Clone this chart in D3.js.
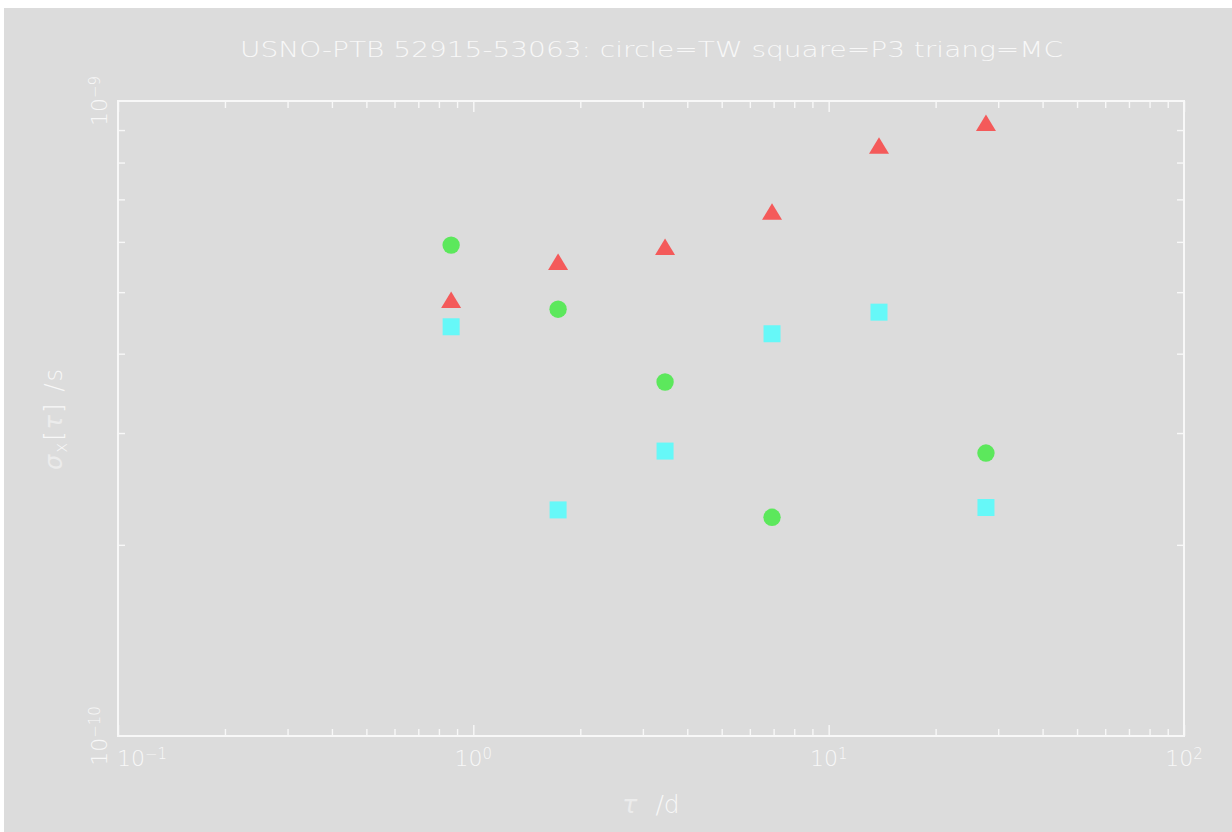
<!DOCTYPE html>
<html>
<head>
<meta charset="utf-8">
<script src="https://cdn.jsdelivr.net/npm/d3@7"></script>
<style>
  html, body { margin: 0; padding: 0; background: #ffffff; }
  svg { display: block; }
  text { font-family: "DejaVu Sans", "Liberation Sans", sans-serif; font-weight: 200; }
</style>
</head>
<body>
<svg id="chart" width="1232" height="832"></svg>
<script>
// Averaging times (days)
const tau = [0.866, 1.732, 3.464, 6.928, 13.856, 27.712];
// Time deviation sigma_x(tau) in seconds, one array per link technique
const twValues = [5.93e-10, 4.70e-10, 3.61e-10, 2.21e-10, null, 2.79e-10]; // circle = TW
const p3Values = [4.41e-10, 2.27e-10, 2.81e-10, 4.30e-10, 4.65e-10, 2.29e-10]; // square = P3
const mcValues = [4.86e-10, 5.58e-10, 5.89e-10, 6.69e-10, 8.50e-10, 9.23e-10]; // triangle = MC

const xDomain = [0.1, 100];
const yDomain = [1e-10, 1e-9];
const xTickLabels = [{v: 0.1, base: "10", exp: "\u22121"}, {v: 1, base: "10", exp: "0"},
                     {v: 10, base: "10", exp: "1"}, {v: 100, base: "10", exp: "2"}];
const yTickLabels = [{v: 1e-9, base: "10", exp: "\u22129"}, {v: 1e-10, base: "10", exp: "\u221210"}];

const titleText = "USNO-PTB 52915-53063: circle=TW square=P3 triang=MC";

const W = 1232, H = 832;
const m = {left: 118, right: 1184, top: 101, bottom: 736};
const bg = "#dcdcdc", fg = "#f8f8f8", greekFg = "#ececec";

const svg = d3.select("#chart");
svg.append("rect").attr("x", 4).attr("y", 8).attr("width", W - 4).attr("height", H - 8).attr("fill", bg);

const x = d3.scaleLog().domain(xDomain).range([m.left, m.right]);
const y = d3.scaleLog().domain(yDomain).range([m.bottom, m.top]);

// minor / major tick positions for each log axis
function logTicks(domain) {
  const major = [], minor = [];
  const lo = Math.round(Math.log10(domain[0])), hi = Math.round(Math.log10(domain[1]));
  for (let e = lo; e <= hi; e++) {
    major.push(Math.pow(10, e));
    if (e < hi) for (let k = 2; k <= 9; k++) minor.push(k * Math.pow(10, e));
  }
  return {major, minor};
}
const xt = logTicks(xDomain), yt = logTicks(yDomain);

function styleAxis(g) {
  g.select(".domain").remove();
  g.selectAll(".tick line").attr("stroke", fg).attr("stroke-width", 1.4);
  g.selectAll(".tick text").remove();
}

// ticks pointing into the frame on all four sides
svg.append("g").attr("transform", `translate(0,${m.bottom})`)
  .call(d3.axisBottom(x).tickValues(xt.minor).tickSize(-7)).call(styleAxis);
svg.append("g").attr("transform", `translate(0,${m.bottom})`)
  .call(d3.axisBottom(x).tickValues(xt.major).tickSize(-11)).call(styleAxis);
svg.append("g").attr("transform", `translate(0,${m.top})`)
  .call(d3.axisTop(x).tickValues(xt.minor).tickSize(-7)).call(styleAxis);
svg.append("g").attr("transform", `translate(0,${m.top})`)
  .call(d3.axisTop(x).tickValues(xt.major).tickSize(-11)).call(styleAxis);
svg.append("g").attr("transform", `translate(${m.left},0)`)
  .call(d3.axisLeft(y).tickValues(yt.minor).tickSize(-7)).call(styleAxis);
svg.append("g").attr("transform", `translate(${m.right},0)`)
  .call(d3.axisRight(y).tickValues(yt.minor).tickSize(-7)).call(styleAxis);

// frame
svg.append("rect")
  .attr("x", m.left).attr("y", m.top)
  .attr("width", m.right - m.left).attr("height", m.bottom - m.top)
  .attr("fill", "none").attr("stroke", fg).attr("stroke-width", 2);

// x tick labels: 10 with superscript exponent
const xl = svg.append("g").selectAll("text").data(xTickLabels).join("text")
  .attr("x", (d, i) => x(d.v) + (i === 0 ? 24 : 0))
  .attr("y", 766)
  .attr("text-anchor", "middle")
  .attr("fill", fg).attr("font-size", 22);
xl.append("tspan").text(d => d.base);
xl.append("tspan").attr("font-size", 15).attr("dy", -7).text(d => d.exp);

// y tick labels, rotated
const yl = svg.append("g").selectAll("text").data(yTickLabels).join("text")
  .attr("transform", d => `translate(107,${y(d.v)}) rotate(-90)`)
  .attr("text-anchor", "middle")
  .attr("fill", fg).attr("font-size", 22);
yl.append("tspan").text(d => d.base);
yl.append("tspan").attr("font-size", 15).attr("dy", -7).text(d => d.exp);

// title
svg.append("text")
  .attr("x", 240).attr("y", 57)
  .attr("textLength", 823).attr("lengthAdjust", "spacingAndGlyphs")
  .attr("fill", fg).attr("font-size", 21)
  .text(titleText);

// x axis label
const xlab = svg.append("text").attr("x", 651).attr("y", 813)
  .attr("text-anchor", "middle").attr("font-size", 25).attr("fill", fg);
xlab.append("tspan").attr("fill", greekFg).attr("font-style", "italic").text("\u03c4");
xlab.append("tspan").attr("dx", 18).text("/d");

// y axis label
const ylab = svg.append("text").attr("transform", `translate(62,${(m.top + m.bottom) / 2}) rotate(-90)`)
  .attr("text-anchor", "middle").attr("font-size", 24).attr("fill", fg)
  .attr("letter-spacing", 2);
ylab.append("tspan").attr("fill", greekFg).attr("font-style", "italic").text("\u03c3");
ylab.append("tspan").attr("font-size", 17).attr("dy", 5).text("x");
ylab.append("tspan").attr("dy", -5).text("[");
ylab.append("tspan").attr("fill", greekFg).attr("font-style", "italic").text("\u03c4");
ylab.append("tspan").text("]");
ylab.append("tspan").attr("dx", 10).text("/s");

// markers
const pts = (vals) => tau.map((t, i) => ({t, v: vals[i]})).filter(d => d.v != null);

svg.append("g").selectAll("circle").data(pts(twValues)).join("circle")
  .attr("cx", d => x(d.t)).attr("cy", d => y(d.v)).attr("r", 8.7)
  .attr("fill", "#5ce85c");

svg.append("g").selectAll("rect").data(pts(p3Values)).join("rect")
  .attr("x", d => x(d.t) - 8.5).attr("y", d => y(d.v) - 8.5)
  .attr("width", 17).attr("height", 17)
  .attr("fill", "#66f8f8");

svg.append("g").selectAll("path").data(pts(mcValues)).join("path")
  .attr("transform", d => `translate(${x(d.t)},${y(d.v)})`)
  .attr("d", "M0,-8.5L10,8L-10,8Z")
  .attr("fill", "#f45a5a");
</script>
</body>
</html>
